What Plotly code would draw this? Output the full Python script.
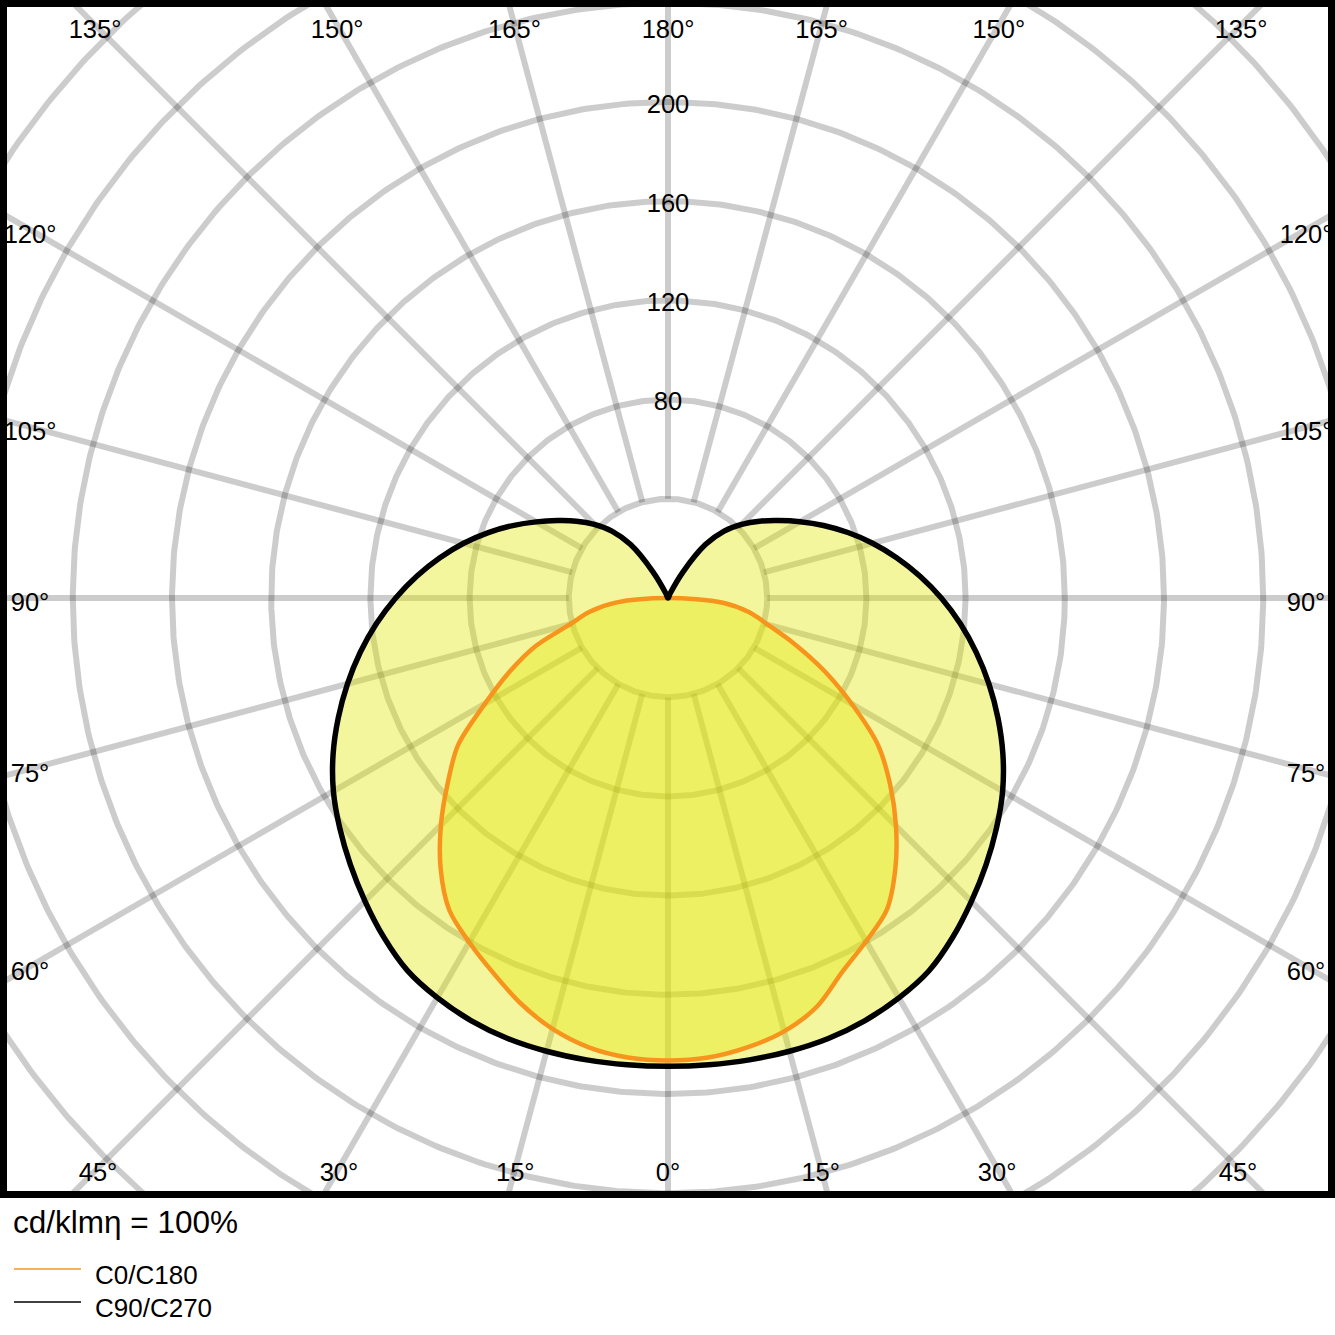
import numpy as np
import plotly.graph_objects as go

# ── Palette & constants ────────────────────────────────────────────────────────
GRID   = "rgba(0,0,0,0.2)"
FILL   = "rgba(226,232,0,0.38)"
ORANGE = "#f7941d"
BLACK  = "#000000"
FONT   = "Liberation Sans, Arial, sans-serif"

W, H   = 1335, 1335
PLOT_H = 1198            # pixel height of the framed diagram
CX, CY = 668, 598        # pole position in pixels
PX     = 2.48            # pixels per cd/klm

# ── Data: luminous intensity (cd/klm) per gamma angle ──────────────────────────
GAMMA = list(range(0, 181, 5))

C0 = [186.5, 186.0, 184.0, 180.9, 175.4, 166.3, 159.8, 153.7, 142.6, 130.0,
      116.9, 103.4, 85.7, 69.6, 54.4, 41.8, 33.3, 22.2, 0.0, 0.0,
      0.0, 0.0, 0.0, 0.0, 0.0, 0.0, 0.0, 0.0, 0.0, 0.0,
      0.0, 0.0, 0.0, 0.0, 0.0, 0.0, 0.0]
C180 = [186.5, 186.0, 184.0, 179.9, 173.9, 166.8, 160.3, 153.7, 142.6, 129.5,
        115.9, 103.3, 85.2, 70.6, 56.9, 40.8, 32.3, 21.2, 0.0, 0.0,
        0.0, 0.0, 0.0, 0.0, 0.0, 0.0, 0.0, 0.0, 0.0, 0.0,
        0.0, 0.0, 0.0, 0.0, 0.0, 0.0, 0.0]
C90 = [188.8, 188.9, 189.1, 189.2, 189.0, 188.0, 186.2, 183.5, 178.6, 173.0,
       167.4, 161.7, 155.8, 149.0, 141.6, 134.0, 126.2, 118.3, 110.2, 101.9,
       93.6, 85.4, 77.2, 69.2, 61.5, 54.4, 48.2, 42.0, 35.2, 26.3,
       12.3, 2.0, 0.0, 0.0, 0.0, 0.0, 0.0]
C270 = [188.8, 188.9, 189.1, 189.2, 189.0, 188.0, 186.1, 183.3, 178.4, 172.8,
        167.2, 161.6, 155.8, 149.0, 141.5, 133.8, 126.0, 118.0, 109.8, 101.6,
        93.4, 85.3, 77.1, 69.1, 61.4, 54.4, 48.2, 42.0, 35.2, 26.3,
        12.3, 2.0, 0.0, 0.0, 0.0, 0.0, 0.0]

RING_VALUES  = [40, 80, 120, 160, 200, 240, 280, 320, 360]
RING_LABELS  = [80, 120, 160, 200]
SPOKE_ANGLES = list(range(0, 360, 15))
ANGLE_LABELS = list(range(0, 181, 15))

LEGEND_TITLE = "cd/klmη = 100%"
SERIES_NAMES = ["C0/C180", "C90/C270"]


def outline(right, left):
    """Closed outline: right half (0→180°), then left half (180→0°)."""
    g = np.radians(GAMMA)
    r = np.asarray(right, float)
    l = np.asarray(left, float)
    x = np.concatenate([r * np.sin(g), -l[::-1] * np.sin(g[::-1])])
    y = np.concatenate([-r * np.cos(g), -l[::-1] * np.cos(g[::-1])])
    # drop repeated points at the pole so the spline stays tidy
    keep = np.ones(len(x), bool)
    keep[1:] = (np.abs(np.diff(x)) + np.abs(np.diff(y))) > 1e-9
    return x[keep], y[keep]


fig = go.Figure()

# ── Polar grid (drawn as plain lines so the frame clips it) ───────────────────
t = np.linspace(0, 2 * np.pi, 721)
for rv in RING_VALUES:
    fig.add_trace(go.Scatter(
        x=rv * np.cos(t), y=rv * np.sin(t), mode="lines",
        line=dict(color=GRID, width=6), hoverinfo="skip", showlegend=False,
    ))
for a in SPOKE_ANGLES:
    ar = np.radians(a)
    fig.add_trace(go.Scatter(
        x=[40 * np.sin(ar), 420 * np.sin(ar)], y=[-40 * np.cos(ar), -420 * np.cos(ar)],
        mode="lines", line=dict(color=GRID, width=6), hoverinfo="skip", showlegend=False,
    ))

# ── Filled distributions ───────────────────────────────────────────────────────
bx, by = outline(C90, C270)
ox, oy = outline(C0, C180)
for xs, ys in [(bx, by), (ox, oy)]:
    fig.add_trace(go.Scatter(
        x=xs, y=ys, mode="lines", fill="toself", fillcolor=FILL,
        line=dict(width=0, color="rgba(0,0,0,0)", shape="spline", smoothing=0.9),
        hoverinfo="skip", showlegend=False,
    ))
fig.add_trace(go.Scatter(
    x=ox, y=oy, mode="lines", name=SERIES_NAMES[0],
    line=dict(color=ORANGE, width=4.5, shape="spline", smoothing=0.9), showlegend=False,
))
fig.add_trace(go.Scatter(
    x=bx, y=by, mode="lines", name=SERIES_NAMES[1],
    line=dict(color=BLACK, width=5.5, shape="spline", smoothing=0.9), showlegend=False,
))

# ── Angle labels where the spokes meet the frame ──────────────────────────────
top, bottom, half_w = 573 / PX, -570 / PX, 638 / PX
lx, ly, lt = [], [], []
for g in ANGLE_LABELS:
    for side in ([1] if g in (0, 180) else [-1, 1]):
        dx, dy = side * np.sin(np.radians(g)), -np.cos(np.radians(g))
        cands = []
        if dy > 1e-9:
            cands.append(top / dy)
        if dy < -1e-9:
            cands.append(bottom / dy)
        if abs(dx) > 1e-9:
            cands.append(half_w / abs(dx))
        k = min(cands)
        lx.append(k * dx)
        ly.append(k * dy - 7 / PX)
        lt.append(f"{g}°")
fig.add_trace(go.Scatter(
    x=lx, y=ly, text=lt, mode="text", textposition="middle center",
    textfont=dict(size=25.5, color=BLACK, family=FONT), hoverinfo="skip", showlegend=False,
))

# ring value labels on the 180° spoke
fig.add_trace(go.Scatter(
    x=[0] * len(RING_LABELS), y=[v - 4.5 / PX for v in RING_LABELS],
    text=[str(v) for v in RING_LABELS], mode="text", textposition="middle center",
    textfont=dict(size=25.5, color=BLACK, family=FONT), hoverinfo="skip", showlegend=False,
))

# ── Frame ──────────────────────────────────────────────────────────────────────
fig.add_shape(
    type="rect", xref="paper", yref="paper",
    x0=3.5 / W, x1=1 - 3.5 / W, y0=3.5 / PLOT_H, y1=1 - 3.5 / PLOT_H,
    line=dict(color=BLACK, width=7), layer="above",
)


# ── Legend below the frame ─────────────────────────────────────────────────────
def py(p):
    return (PLOT_H - p) / PLOT_H


fig.add_annotation(
    x=11 / W, y=py(1222), xref="paper", yref="paper", text=LEGEND_TITLE,
    showarrow=False, xanchor="left", yanchor="middle",
    font=dict(size=31.5, color=BLACK, family=FONT),
)
for name, clr, yl, yt in [(SERIES_NAMES[0], ORANGE, 1269, 1275),
                          (SERIES_NAMES[1], BLACK, 1302, 1308)]:
    fig.add_shape(
        type="line", xref="paper", yref="paper",
        x0=14 / W, x1=81 / W, y0=py(yl), y1=py(yl),
        line=dict(color=clr, width=1.6),
    )
    fig.add_annotation(
        x=93 / W, y=py(yt), xref="paper", yref="paper", text=name,
        showarrow=False, xanchor="left", yanchor="middle",
        font=dict(size=26, color=BLACK, family=FONT),
    )

# ── Layout ─────────────────────────────────────────────────────────────────────
fig.update_layout(
    width=W, height=H,
    margin=dict(l=0, r=0, t=0, b=H - PLOT_H, pad=0),
    paper_bgcolor="white", plot_bgcolor="white",
    showlegend=False,
    font=dict(family=FONT, color=BLACK),
)
fig.update_xaxes(range=[-CX / PX, (W - CX) / PX], visible=False, fixedrange=True)
fig.update_yaxes(range=[-(PLOT_H - CY) / PX, CY / PX], visible=False, fixedrange=True)

# page body margin off so the chart sits flush in the window
fig.write_html(
    "out.html",
    config={"displayModeBar": False},
    post_script="document.body.style.margin='0';",
)
